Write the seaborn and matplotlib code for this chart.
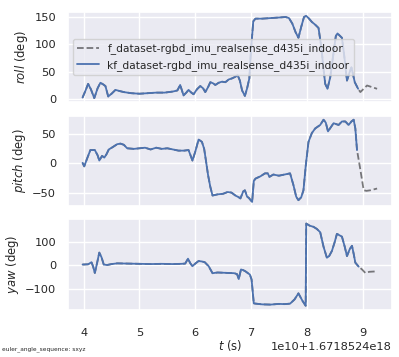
import matplotlib
matplotlib.use("Agg")
import matplotlib.pyplot as plt
import numpy as np
import seaborn as sns
from matplotlib.ticker import MultipleLocator

sns.set_theme(style="darkgrid")
plt.rcParams.update({
    "font.size": 8,
    "xtick.labelsize": 8.2,
    "ytick.labelsize": 8.2,
    "axes.labelsize": 8.4,
    "legend.fontsize": 7.7,
    "xtick.major.pad": 7,
    "ytick.major.pad": 2.5,
    "mathtext.fontset": "dejavusans",
})

# timestamps: t * 1e10 ns + offset
T0 = 1.6718524e18
T_KF_END = 8.93
ref_name = "f_dataset-rgbd_imu_realsense_d435i_indoor"
est_name = "kf_dataset-rgbd_imu_realsense_d435i_indoor"

# roll (deg)
roll_t = [3.98, 4.03, 4.08, 4.13, 4.19, 4.25, 4.30, 4.35, 4.39, 4.44, 4.50, 4.57,
          4.64, 4.72, 4.85, 5.00, 5.15, 5.30, 5.45, 5.60, 5.68, 5.73, 5.79, 5.84,
          5.88, 5.93, 5.97, 6.03, 6.09, 6.14, 6.18, 6.23, 6.27, 6.32, 6.36, 6.42,
          6.48, 6.54, 6.60, 6.66, 6.72, 6.76, 6.80, 6.84, 6.89, 6.93, 6.97, 7.00,
          7.04, 7.08, 7.20, 7.35, 7.50, 7.62, 7.68, 7.74, 7.80, 7.85, 7.90, 7.95,
          7.99, 8.04, 8.09, 8.15, 8.21, 8.26, 8.30, 8.33, 8.37, 8.42, 8.48, 8.52,
          8.55, 8.63, 8.67, 8.72, 8.77, 8.80, 8.86, 8.92, 8.96, 9.02, 9.08, 9.14,
          9.20, 9.26]
roll_deg = [3, 15, 28, 18, 2, 20, 30, 27, 24, 5, 10, 17,
            15, 13, 11, 10, 11, 12, 12, 14, 16, 26, 7, 12,
            17, 12, 9, 18, 24, 20, 13, 22, 31, 29, 26, 30,
            32, 31, 36, 38, 41, 44, 34, 16, 6, 20, 38, 90,
            142, 147, 147, 148, 149, 150, 148, 138, 122, 112, 132, 150,
            152, 147, 141, 136, 130, 95, 55, 28, 19, 40, 85, 115,
            120, 112, 80, 34, 50, 58, 31, 19, 13, 19, 25, 23,
            21, 19]

# pitch (deg)
pitch_t = [3.98, 4.01, 4.06, 4.12, 4.20, 4.25, 4.28, 4.33, 4.37, 4.41, 4.45, 4.52,
           4.60, 4.66, 4.72, 4.78, 4.90, 5.00, 5.10, 5.20, 5.30, 5.40, 5.50, 5.60,
           5.70, 5.80, 5.88, 5.95, 6.00, 6.06, 6.12, 6.16, 6.19, 6.23, 6.27, 6.31,
           6.40, 6.50, 6.58, 6.65, 6.72, 6.78, 6.81, 6.86, 6.89, 6.93, 6.96, 7.02,
           7.05, 7.08, 7.17, 7.25, 7.30, 7.33, 7.40, 7.50, 7.60, 7.70, 7.76, 7.81,
           7.85, 7.90, 7.94, 7.98, 8.03, 8.09, 8.15, 8.24, 8.30, 8.34, 8.38, 8.43,
           8.48, 8.57, 8.63, 8.69, 8.75, 8.80, 8.84, 8.87, 8.90, 8.95, 9.02, 9.07,
           9.14, 9.26]
pitch_deg = [1, -5, 8, 23, 23, 14, 5, 13, 10, 16, 24, 28,
             33, 34, 32, 26, 25, 26, 27, 24, 27, 25, 26, 24,
             22, 22, 23, 5, 20, 41, 37, 25, 6, -20, -40, -55,
             -53, -52, -49, -50, -55, -58, -60, -48, -46, -57, -59, -66,
             -30, -26, -22, -17, -17, -23, -19, -21, -19, -17, -37, -57,
             -63, -58, -46, -5, 37, 52, 60, 66, 75, 70, 55, 62,
             69, 66, 72, 72, 66, 72, 75, 60, 23, -5, -46, -47,
             -46, -43]

# yaw (deg)
yaw_t = [3.98, 4.08, 4.14, 4.17, 4.20, 4.24, 4.28, 4.32, 4.36, 4.42, 4.50, 4.60,
         4.80, 5.00, 5.20, 5.40, 5.60, 5.75, 5.82, 5.87, 5.91, 5.95, 6.00, 6.06,
         6.12, 6.17, 6.24, 6.31, 6.40, 6.50, 6.60, 6.70, 6.75, 6.78, 6.82, 6.86,
         6.90, 6.98, 7.01, 7.05, 7.20, 7.35, 7.50, 7.60, 7.70, 7.78, 7.85, 7.92,
         7.98, 7.99, 8.05, 8.12, 8.18, 8.24, 8.30, 8.36, 8.40, 8.45, 8.50, 8.54,
         8.63, 8.68, 8.72, 8.77, 8.81, 8.84, 8.87, 8.93, 8.99, 9.05, 9.12, 9.26]
yaw_deg = [4, 5, 14, -5, -32, 10, 55, 35, 4, 2, 6, 9,
           8, 7, 6, 7, 6, 7, 8, 29, 10, -3, 8, 19,
           17, 14, -3, -33, -30, -31, -32, -33, -37, -58, -17, -20,
           -25, -39, -60, -162, -166, -167, -164, -165, -163, -145, -119, -150,
           -172, 179, 170, 165, 156, 142, 80, 33, 40, 62, 100, 135,
           123, 80, 40, 70, 84, 50, 12, -5, -17, -32, -27, -25]

panels = [(roll_t, roll_deg, r"$roll$ (deg)", 50),
          (pitch_t, pitch_deg, r"$pitch$ (deg)", 50),
          (yaw_t, yaw_deg, r"$yaw$ (deg)", 100)]

fig, axes = plt.subplots(3, 1, sharex=True, figsize=(3.99, 3.57), dpi=100)
fig.subplots_adjust(left=0.17, right=0.982, top=0.967, bottom=0.132, hspace=0.148)

blue = sns.color_palette("deep")[0]
for ax, (t, v, label, step) in zip(axes, panels):
    t = np.array(t)
    v = np.array(v)
    x = T0 + t * 1e10
    kf = t <= T_KF_END
    sns.lineplot(x=x, y=v, ax=ax, color="black", alpha=0.5, linestyle="--",
                 linewidth=1.3, sort=False, estimator=None, label=ref_name)
    sns.lineplot(x=x[kf], y=v[kf], ax=ax, color=blue, linewidth=1.3,
                 sort=False, estimator=None, label=est_name)
    ax.yaxis.set_major_locator(MultipleLocator(step))
    ax.set_ylabel(label, labelpad=3)
    ax.set_xlabel("")
    if ax is not axes[0]:
        ax.get_legend().remove()

axes[0].legend(loc="center left", frameon=True)
axes[-1].set_xlabel(r"$t$ (s)", labelpad=0)
fig.text(0.005, 0.02, "euler_angle_sequence: sxyz", fontsize=4.2)

fig.savefig("out.png", dpi=100)
